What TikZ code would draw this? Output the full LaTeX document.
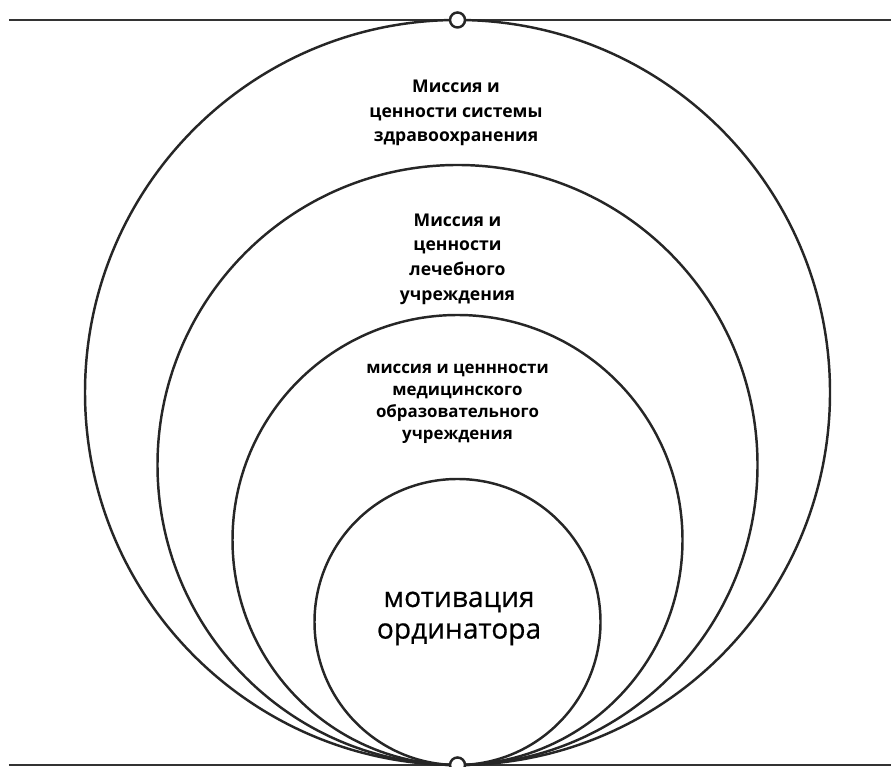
\documentclass[tikz,border=0pt]{standalone}
\usepackage{fontspec}
\setmainfont{Open Sans}
\usepackage{tikz}
\usetikzlibrary{positioning}

\tikzset{
  ring/.style={draw=black!85, line width=1.4pt},
  rule/.style={draw=black!80, line width=1.4pt},
  knot/.style={circle, draw=black!85, fill=white, line width=1.4pt, inner sep=0pt, minimum size=0.3cm},
  small label/.style={align=center, font=\bfseries\fontsize{10}{14}\selectfont},
  big label/.style={align=center, font=\fontsize{16}{18}\selectfont\addfontfeature{FakeBold=0.6}}
}

\begin{document}
\begin{tikzpicture}
\useasboundingbox (0,0) rectangle (17.82,15.34);

% Horizontal rules
\coordinate (tl) at (0.18,14.94);
\coordinate (tr) at (17.82,14.94);
\coordinate (bl) at (0.18,0.04);
\coordinate (br) at (17.82,0.04);
\draw[rule] (tl) -- (tr);
\draw[rule] (bl) -- (br);

% Nested circles, all touching at the bottom
\draw[ring] (9.15,7.49) circle (7.45);
\draw[ring] (9.15,6.04) circle (6.0);
\draw[ring] (9.15,4.54) circle (4.5);
\draw[ring] (9.15,2.90) circle (2.86);

% Contact points
\node[knot] (topknot) at (9.15,14.94) {};
\node[knot] (botknot) at (9.15,0.04) {};

% Labels
\node[small label] (system) at (9.12,13.08) {Миссия и\\ценности системы\\здравоохранения};
\node[small label] (hospital) at (9.15,10.16) {Миссия и\\ценности\\лечебного\\учреждения};
\node[small label, font=\bfseries\fontsize{9.6}{12.6}\selectfont] (school) at (9.15,7.26) {миссия и ценнности\\медицинского\\образовательного\\учреждения};
\node[big label] (resident) at (9.18,2.97) {мотивация\\ординатора};

\end{tikzpicture}
\end{document}
